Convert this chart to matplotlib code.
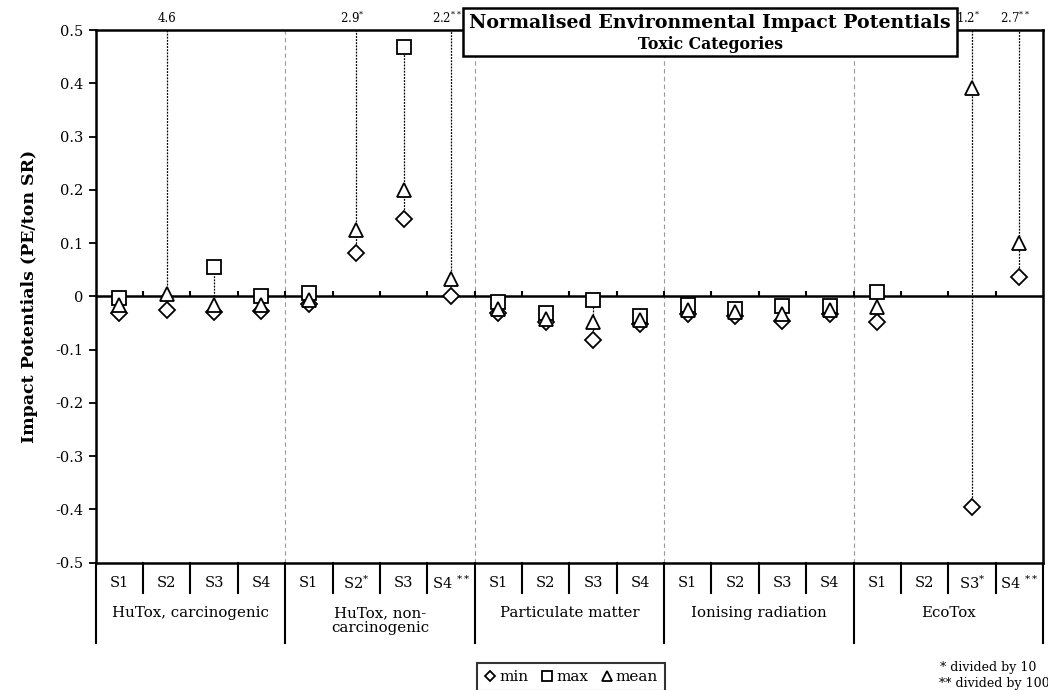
import numpy as np
import matplotlib
matplotlib.use("Agg")
import matplotlib.pyplot as plt
from matplotlib.lines import Line2D
from matplotlib.patches import Rectangle

plt.rcParams['font.family'] = ['DejaVu Serif']
plt.rcParams['mathtext.fontset'] = 'dejavuserif'

# categories and scenarios
categories = ['HuTox, carcinogenic', 'HuTox, non-\ncarcinogenic', 'Particulate matter',
              'Ionising radiation', 'EcoTox']
scenarios = ['S1', 'S2', 'S3', 'S4']
# footnote marks per slot (* divided by 10, ** divided by 100)
notes = ['', '', '', '',
         '', '*', '', '**',
         '', '', '', '',
         '', '', '', '',
         '', '', '*', '**']

# values per slot (5 categories x 4 scenarios)
min_vals = [-0.031, -0.025, -0.030, -0.028,
            -0.014, 0.081, 0.146, 0.000,
            -0.032, -0.048, -0.082, -0.052,
            -0.033, -0.036, -0.047, -0.033,
            -0.048, np.nan, -0.396, 0.036]
max_vals = [-0.004, 4.6, 0.056, 0.000,
            0.007, 2.9, 0.469, 2.2,
            -0.011, -0.032, -0.006, -0.036,
            -0.017, -0.023, -0.019, -0.019,
            0.009, np.nan, 1.2, 2.7]
mean_vals = [-0.017, 0.005, -0.017, -0.016,
             -0.006, 0.125, 0.200, 0.032,
             -0.023, -0.042, -0.048, -0.045,
             -0.025, -0.030, -0.034, -0.025,
             -0.020, np.nan, 0.392, 0.100]

n = len(min_vals)
x = np.arange(n) + 0.5
ymax, ymin = 0.5, -0.5

fig = plt.figure(figsize=(10.48, 6.9), dpi=100)
ax = fig.add_axes([0.0913, 0.1845, 0.9039, 0.772])
ax.set_xlim(0, n)
ax.set_ylim(ymin, ymax)

# grey dashed separators between categories
for b in range(4, n, 4):
    ax.axvline(b, color='#999999', lw=0.8, ls=(0, (4, 3)), zorder=1)

# dotted range lines from min to max
for xi, lo, hi in zip(x, min_vals, max_vals):
    if np.isnan(lo):
        continue
    ax.plot([xi, xi], [lo, min(hi, ymax)], color='black', lw=0.9, ls=(0, (1.5, 1)), zorder=2)

# zero axis with up ticks
ax.axhline(0, color='black', lw=1.8, zorder=3)
ax.vlines(np.arange(1, n), 0, 0.0095, color='black', lw=1.5, zorder=3)

mk = dict(ls='none', mfc='white', mec='black', mew=1.3, clip_on=True)
ax.plot(x, min_vals, marker='D', ms=8, zorder=4, **mk)
ax.plot(x, max_vals, marker='s', ms=9.5, zorder=5, **mk)
ax.plot(x, mean_vals, marker='^', ms=10, zorder=6, **mk)

# labels for values beyond the axis
for xi, hi, note in zip(x, max_vals, notes):
    if hi > ymax:
        lab = f'{hi}' + (f'$^{{{note}}}$' if note else '')
        ax.annotate(lab, (xi, 1.022), xycoords=ax.get_xaxis_transform(),
                    xytext=(-3 if note else 0, 0), textcoords='offset points',
                    ha='center', va='center', fontsize=8.5)

# y axis
ax.set_yticks(np.arange(-0.5, 0.51, 0.1))
ax.set_yticklabels(['0' if abs(v) < 1e-9 else f'{v:.1f}' for v in np.arange(-0.5, 0.51, 0.1)])
ax.tick_params(axis='y', direction='out', length=5, width=1.3, labelsize=10.5, pad=4)
ax.set_xticks([])
for s in ax.spines.values():
    s.set_linewidth(1.8)
ax.set_ylabel('Impact Potentials (PE/ton SR)', fontsize=12.5, fontweight='bold', labelpad=12)

# category table below the plot
tr = ax.get_xaxis_transform()
for i in range(n):
    note = notes[i]
    sep = ' ' if note == '**' else ''
    lab = scenarios[i % 4] + (f'{sep}$^{{{note}}}$' if note else '')
    ax.text(x[i], -0.038, lab, transform=tr, ha='center', va='center', fontsize=10.5)
    if i % 4 != 0:
        ax.plot([i, i], [0, -0.057], transform=tr, color='black', lw=1.5, clip_on=False)
for c, name in enumerate(categories):
    ax.text(c * 4 + 2, -0.082, name, transform=tr, ha='center', va='top', fontsize=10.8,
            linespacing=1.05)
for b in range(0, n + 1, 4):
    ax.plot([b, b], [0, -0.151], transform=tr, color='black', lw=1.5, clip_on=False)

# title box
fig.patches.append(Rectangle((0.4418, 0.9188), 0.4714, 0.0696, transform=fig.transFigure,
                             facecolor='white', edgecolor='black', lw=1.8, zorder=10))
fig.text(0.6775, 0.966, 'Normalised Environmental Impact Potentials', ha='center', va='center',
         fontsize=13.7, fontweight='bold', zorder=11)
fig.text(0.6775, 0.935, 'Toxic Categories', ha='center', va='center',
         fontsize=11.3, fontweight='bold', zorder=11)

# legend
handles = [Line2D([], [], marker='D', ms=5.5, **mk),
           Line2D([], [], marker='s', ms=7, **mk),
           Line2D([], [], marker='^', ms=7.5, **mk)]
leg = fig.legend(handles, ['min', 'max', 'mean'], ncol=3, loc='upper center',
                 bbox_to_anchor=(0.545, 0.05), frameon=True, fancybox=False,
                 fontsize=11, handlelength=0.8, handletextpad=0.2, columnspacing=0.8,
                 borderpad=0.45)
leg.get_frame().set_edgecolor('black')
leg.get_frame().set_linewidth(1.5)

# footnotes
fig.text(0.897, 0.032, '* divided by 10', fontsize=9, va='center')
fig.text(0.896, 0.010, '** divided by 100', fontsize=9, va='center')

fig.savefig('out.png', dpi=100)
